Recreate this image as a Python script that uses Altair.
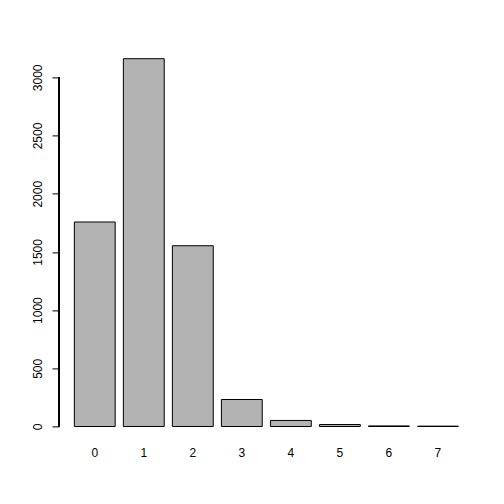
import altair as alt
import pandas as pd

categories = ["0", "1", "2", "3", "4", "5", "6", "7"]
counts = [1757, 3160, 1553, 232, 52, 17, 5, 3]

df = pd.DataFrame({"cat": categories, "count": counts})

FONT = "Liberation Sans"

bars = alt.Chart(df).mark_bar(
    fill="#B3B3B3", stroke="black", strokeWidth=1
).encode(
    x=alt.X(
        "cat:N",
        sort=categories,
        title=None,
        scale=alt.Scale(paddingInner=0.2 / 1.2, paddingOuter=0.313),
        axis=alt.Axis(
            domain=False, ticks=False, tickSize=0, labelAngle=0,
            labelBaseline="alphabetic", labelPadding=30,
            labelFont=FONT, labelFontSize=12, labelColor="black",
        ),
    ),
    y=alt.Y(
        "count:Q",
        title=None,
        scale=alt.Scale(domain=[0, 3300], nice=False, zero=True),
        axis=alt.Axis(
            values=[0, 500, 1000, 1500, 2000, 2500, 3000],
            format="d",
            domain=False, grid=False, tickSize=7, tickColor="black",
            labelAngle=270, labelAlign="center", labelBaseline="alphabetic",
            labelPadding=10.3, labelFont=FONT, labelFontSize=12,
            labelColor="black",
        ),
    ),
)

axis_line = alt.Chart(df).mark_rule(color="black", strokeWidth=1).encode(
    x=alt.value(0),
    y=alt.datum(0),
    y2=alt.datum(3000),
)

chart = alt.layer(bars, axis_line).properties(
    width=414.7,
    height=384.1,
    autosize=alt.AutoSizeParams(type="none"),
    padding={"left": 51.0, "top": 34.4, "right": 22.3, "bottom": 69.5},
    background="white",
).configure_view(stroke=None)

chart.save("out.html", embed_options={"renderer": "svg", "actions": False})
